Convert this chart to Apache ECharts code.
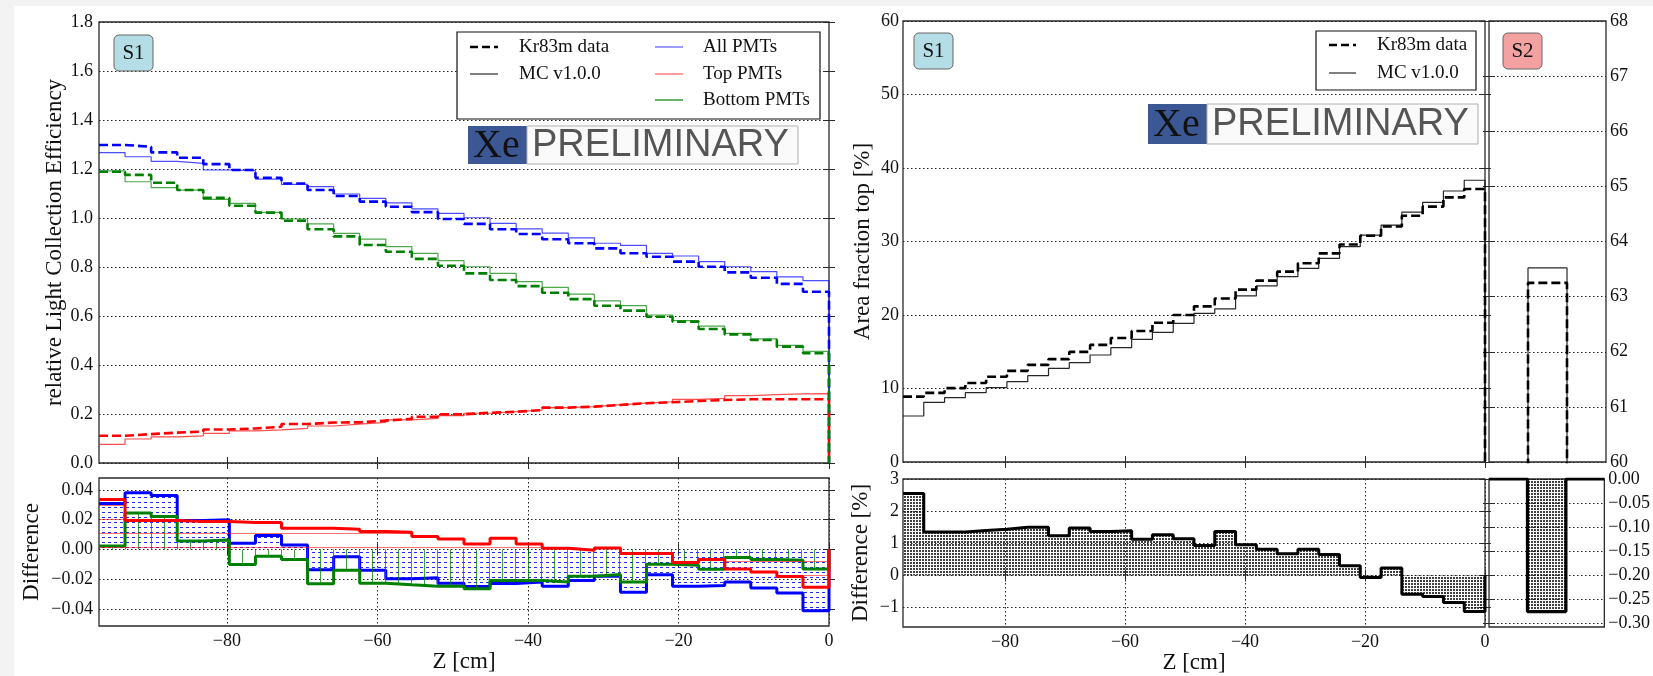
<!DOCTYPE html>
<html><head><meta charset="utf-8">
<script src="https://cdn.jsdelivr.net/npm/echarts@6/dist/echarts.min.js"></script>
<style>html,body{margin:0;padding:0;background:#fff}#c{width:1653px;height:676px}</style>
</head><body><div id="c"></div>
<script>
// ---- data ----
const zEdges = [-97.00,-93.54,-90.07,-86.61,-83.14,-79.68,-76.21,-72.75,-69.29,-65.82,-62.36,-58.89,-55.43,-51.96,-48.50,-45.04,-41.57,-38.11,-34.64,-31.18,-27.71,-24.25,-20.79,-17.32,-13.86,-10.39,-6.93,-3.46,0];
const zTicks = [-80,-60,-40,-20,0];

const lceAllData = [1.298,1.291,1.268,1.246,1.220,1.196,1.164,1.141,1.114,1.090,1.067,1.046,1.024,0.996,0.976,0.954,0.935,0.913,0.897,0.876,0.856,0.842,0.822,0.801,0.778,0.756,0.731,0.699];
const lceAllMC   = [1.267,1.250,1.231,1.223,1.196,1.193,1.159,1.137,1.128,1.098,1.080,1.062,1.037,1.019,1.001,0.978,0.956,0.938,0.919,0.897,0.888,0.856,0.845,0.822,0.801,0.781,0.760,0.744];
const lceTopData = [0.111,0.118,0.124,0.128,0.137,0.141,0.148,0.159,0.165,0.166,0.173,0.180,0.189,0.199,0.205,0.209,0.216,0.226,0.230,0.237,0.244,0.248,0.253,0.257,0.260,0.260,0.260,0.260];
const lceTopMC   = [0.076,0.098,0.107,0.111,0.121,0.131,0.135,0.141,0.151,0.159,0.166,0.176,0.182,0.193,0.203,0.210,0.216,0.226,0.230,0.238,0.244,0.250,0.260,0.264,0.275,0.279,0.282,0.283];
const lceBotData = [1.189,1.176,1.144,1.114,1.082,1.050,1.022,0.989,0.954,0.925,0.890,0.862,0.833,0.805,0.774,0.747,0.722,0.695,0.669,0.642,0.622,0.597,0.577,0.547,0.525,0.502,0.475,0.448];
const lceBotMC   = [1.192,1.148,1.124,1.114,1.076,1.060,1.023,0.996,0.976,0.937,0.914,0.883,0.856,0.826,0.801,0.774,0.740,0.717,0.689,0.662,0.642,0.604,0.581,0.559,0.529,0.507,0.480,0.456];
const lceTicks = [0,0.2,0.4,0.6,0.8,1.0,1.2,1.4,1.6,1.8];

const diffAll = [0.0308,0.038,0.0363,0.0195,0.0199,0.0041,0.0093,0.0029,-0.0136,-0.005,-0.0141,-0.0197,-0.019,-0.0227,-0.025,-0.023,-0.022,-0.0248,-0.0209,-0.018,-0.0288,-0.017,-0.0248,-0.0243,-0.022,-0.0259,-0.0293,-0.0413];
const diffTop = [0.0335,0.0195,0.0195,0.0188,0.0188,0.018,0.018,0.0143,0.0143,0.0136,0.012,0.0116,0.0086,0.007,0.0036,0.0075,0.0036,0.0007,-0.0005,0.001,-0.0027,-0.0027,-0.0088,-0.0068,-0.0132,-0.0152,-0.0182,-0.0254];
const diffBot = [0.0022,0.0245,0.0222,0.0056,0.0063,-0.0102,-0.0046,-0.0068,-0.0231,-0.0141,-0.0227,-0.0238,-0.0248,-0.0248,-0.0265,-0.0209,-0.0209,-0.022,-0.018,-0.0168,-0.022,-0.01,-0.0107,-0.0134,-0.0054,-0.0068,-0.0073,-0.0132];
const diffTicksL = [-0.04,-0.02,0,0.02,0.04];

const aftData = [8.89,9.40,10.05,10.75,11.60,12.40,13.22,14.00,14.98,15.93,16.88,17.82,18.95,20.00,21.18,22.25,23.45,24.68,25.90,27.05,28.38,29.60,30.78,32.05,33.50,34.75,36.00,37.15];
const aftMC   = [6.26,8.12,8.75,9.43,10.11,10.93,11.74,12.74,13.51,14.56,15.56,16.69,17.64,18.87,20.23,20.82,22.59,23.95,25.21,26.35,27.71,29.29,30.88,32.24,34.01,35.33,36.87,38.33];
const aftDiff = [2.55,1.35,1.35,1.40,1.44,1.50,1.50,1.24,1.48,1.37,1.39,1.13,1.27,1.14,0.93,1.37,0.96,0.82,0.68,0.82,0.65,0.30,-0.06,0.23,-0.58,-0.65,-0.84,-1.12];
const aftTicks = [0,10,20,30,40,50,60];
const diffTicksR = [-1,0,1,2,3];

const s2Edges = [0,1,2,3];
const s2Data = [0,63.25,0];
const s2MC   = [0,63.52,0];
const s2Diff = [0,-0.276,0];
const s2Ticks = [60,61,62,63,64,65,66,67,68];
const s2DiffTicks = [-0.30,-0.25,-0.20,-0.15,-0.10,-0.05,0];

// ---- helpers ----
function hist(edges, vals, drop){
  const p = vals.map((v,i)=>[edges[i], v]);
  p.push([edges[edges.length-1], drop ? 0 : vals[vals.length-1]]);
  return p;
}
function pat(w,h,draw){
  const c=document.createElement('canvas'); c.width=w; c.height=h;
  draw(c.getContext('2d')); return {image:c, repeat:'repeat'};
}
const blueHatch = pat(6,5,ctx=>{ctx.fillStyle='rgba(0,0,255,0.85)';ctx.fillRect(0,2,3,1);});
const greenHatch = pat(13,13,ctx=>{ctx.fillStyle='rgba(0,128,0,0.75)';ctx.fillRect(8,0,1,13);});
const redHatch = pat(8,14,ctx=>{ctx.fillStyle='rgba(255,0,0,0.55)';ctx.fillRect(0,1,8,1);});
const dots = pat(3,3,ctx=>{ctx.fillStyle='rgba(0,0,0,0.75)';ctx.fillRect(1,1,2,2);});

const SERIF='"Liberation Serif", "Times New Roman", serif';
const minus = s => String(s).replace('-', '\u2212');
const lab = (fmt)=>({fontFamily:SERIF,fontSize:18,color:'#111',formatter:fmt});
const grid = (l,t,w,h)=>({left:l,top:t,width:w,height:h,show:true,borderColor:'#2a2a2a',borderWidth:1.3,containLabel:false});
const dotted = {show:true,lineStyle:{color:'#222',type:[1.5,2.5],width:1}};
const nameStyle = {fontFamily:SERIF,fontSize:23,color:'#111'};
const tick = (cv)=>({show:true,inside:true,length:6,customValues:cv,lineStyle:{color:'#2a2a2a',width:1}});

function xAx(gi, showLab, showSplit){
  return {type:'value',gridIndex:gi,min:-97,max:0,
    axisLine:{show:false},
    axisTick:tick(zTicks),
    axisLabel:{show:showLab,customValues:zTicks,margin:6,...lab(v=>minus(v))},
    splitLine:showSplit?dotted:{show:false},
    name:showLab?'Z [cm]':'',nameLocation:'middle',nameGap:24,nameTextStyle:nameStyle};
}
function xMirror(gi){
  return {type:'value',gridIndex:gi,min:-97,max:0,position:'top',axisLine:{show:false},
    axisTick:tick(zTicks),axisLabel:{show:false},splitLine:{show:false}};
}
function yMirror(gi,min,max,cv,pos){
  return {type:'value',gridIndex:gi,min,max,position:pos||'right',axisLine:{show:false},
    axisTick:tick(cv),axisLabel:{show:false},splitLine:{show:false}};
}
function s2X(gi){
  return {type:'value',gridIndex:gi,min:0,max:3,axisLine:{show:false},axisTick:{show:false},axisLabel:{show:false},splitLine:{show:false}};
}

const line = (xi,yi,data,color,width,dash,opacity,z,area)=>({
  type:'line',xAxisIndex:xi,yAxisIndex:yi,data,step:'end',showSymbol:false,symbol:'none',
  silent:true,z:z||2,
  lineStyle:{color,width,type:dash||'solid',opacity:opacity==null?1:opacity},
  areaStyle:area?{color:area,opacity:1}:undefined
});

const option = {
  animation:false,
  backgroundColor:'#fff',
  grid:[grid(99,22,730,441),grid(99,478,730,148),grid(903,21,582,441),grid(903,479,582,148),grid(1489,21,117,441),grid(1489,479,117,148)],
  xAxis:[xAx(0,false,false),xAx(1,true,true),xAx(2,false,false),xAx(3,true,true),s2X(4),s2X(5),
    xMirror(0),xMirror(1),xMirror(2),xMirror(3)],
  yAxis:[
    {type:'value',gridIndex:0,min:0,max:1.8,interval:0.2,axisLine:{show:false},
      axisTick:tick(lceTicks),
      axisLabel:{margin:6,...lab(v=>v.toFixed(1))},splitLine:dotted,
      name:'relative Light Collection Efficiency',nameLocation:'middle',nameGap:33,nameTextStyle:nameStyle},
    {type:'value',gridIndex:1,min:-0.0515,max:0.048,axisLine:{show:false},
      axisTick:tick(diffTicksL),
      axisLabel:{customValues:diffTicksL,margin:6,...lab(v=>minus(v.toFixed(2)))},splitLine:dotted,
      name:'Difference',nameLocation:'middle',nameGap:56,nameTextStyle:nameStyle},
    {type:'value',gridIndex:2,min:0,max:60,interval:10,axisLine:{show:false},
      axisTick:tick(aftTicks),
      axisLabel:{margin:4,...lab(v=>String(v))},splitLine:dotted,
      name:'Area fraction top [%]',nameLocation:'middle',nameGap:29,nameTextStyle:nameStyle},
    {type:'value',gridIndex:3,min:-1.6,max:3,axisLine:{show:false},
      axisTick:tick(diffTicksR),
      axisLabel:{customValues:diffTicksR,margin:4,...lab(v=>minus(v))},splitLine:dotted,
      name:'Difference [%]',nameLocation:'middle',nameGap:31,nameTextStyle:nameStyle},
    {type:'value',gridIndex:4,min:60,max:68,interval:1,position:'right',axisLine:{show:false},
      axisTick:tick(s2Ticks),
      axisLabel:{margin:4,...lab(v=>String(v))},splitLine:dotted},
    {type:'value',gridIndex:5,min:-0.308,max:0,position:'right',axisLine:{show:false},
      axisTick:tick(s2DiffTicks),
      axisLabel:{customValues:s2DiffTicks,margin:4,...lab(v=>minus(v.toFixed(2)))},splitLine:dotted},
    yMirror(0,0,1.8,lceTicks),yMirror(1,-0.0515,0.048,diffTicksL),yMirror(2,0,60,aftTicks),yMirror(3,-1.6,3,diffTicksR),
    yMirror(4,60,68,s2Ticks,'left'),yMirror(5,-0.308,0,s2DiffTicks,'left')
  ],
  series:[
    line(0,0,hist(zEdges,lceAllMC,true),'#0000ff',1.2,'solid',0.7),
    line(0,0,hist(zEdges,lceTopMC,true),'#ff0000',1.2,'solid',0.7),
    line(0,0,hist(zEdges,lceBotMC,true),'#008000',1.2,'solid',0.7),
    line(0,0,hist(zEdges,lceAllData,true),'#0000ff',2.6,[9,4],1,3),
    line(0,0,hist(zEdges,lceTopData,true),'#ff0000',2.6,[9,4],1,3),
    line(0,0,hist(zEdges,lceBotData,true),'#008000',2.6,[9,4],1,3),

    line(1,1,hist(zEdges,diffAll,true),'#0000ff',3,'solid',1,3,blueHatch),
    line(1,1,hist(zEdges,diffBot,true),'#008000',3,'solid',1,4,greenHatch),
    line(1,1,hist(zEdges,diffTop,true),'#ff0000',3,'solid',1,5,redHatch),

    line(2,2,hist(zEdges,aftMC,true),'#000',1.2,'solid',0.85),
    line(2,2,hist(zEdges,aftData,true),'#000',2.6,[9,4],1,3),
    line(3,3,hist(zEdges,aftDiff,true),'#000',3,'solid',1,3,dots),

    line(4,4,hist(s2Edges,s2MC,true),'#000',1.2,'solid',0.85),
    line(4,4,hist(s2Edges,s2Data,true),'#000',2.6,[9,4],1,3),
    line(5,5,hist(s2Edges,s2Diff,true),'#000',3.2,'solid',1,3,dots)
  ],
  graphic:[
    {type:'rect',z:-10,shape:{x:0,y:0,width:1653,height:6},style:{fill:'#f3f3f3'}},
    {type:'rect',z:-10,shape:{x:0,y:0,width:14,height:676},style:{fill:'#f3f3f3'}},
    // left legend
    {type:'group',z:100,children:[
      {type:'rect',z:100,shape:{x:457,y:32,width:363,height:87},style:{fill:'#fff',stroke:'#111',lineWidth:1.2}},
      {type:'line',z:101,shape:{x1:470,y1:47,x2:498,y2:47},style:{stroke:'#000',lineWidth:2.6,lineDash:[8,4]}},
      {type:'text',z:101,x:519,y:47,style:{text:'Kr83m data',font:'19px '+SERIF,fill:'#111',verticalAlign:'middle'}},
      {type:'line',z:101,shape:{x1:470,y1:74,x2:498,y2:74},style:{stroke:'#000',lineWidth:1}},
      {type:'text',z:101,x:519,y:74,style:{text:'MC v1.0.0',font:'19px '+SERIF,fill:'#111',verticalAlign:'middle'}},
      {type:'line',z:101,shape:{x1:655,y1:47,x2:683,y2:47},style:{stroke:'#5a5aff',lineWidth:1.2}},
      {type:'text',z:101,x:703,y:47,style:{text:'All PMTs',font:'19px '+SERIF,fill:'#111',verticalAlign:'middle'}},
      {type:'line',z:101,shape:{x1:655,y1:74,x2:683,y2:74},style:{stroke:'#ff5a5a',lineWidth:1.2}},
      {type:'text',z:101,x:703,y:74,style:{text:'Top PMTs',font:'19px '+SERIF,fill:'#111',verticalAlign:'middle'}},
      {type:'line',z:101,shape:{x1:655,y1:100,x2:683,y2:100},style:{stroke:'#008000',lineWidth:1.2}},
      {type:'text',z:101,x:703,y:100,style:{text:'Bottom PMTs',font:'19px '+SERIF,fill:'#111',verticalAlign:'middle'}}
    ]},
    // right legend
    {type:'group',z:100,children:[
      {type:'rect',z:100,shape:{x:1316,y:31,width:160,height:59},style:{fill:'#fff',stroke:'#111',lineWidth:1.2}},
      {type:'line',z:101,shape:{x1:1329,y1:45,x2:1356,y2:45},style:{stroke:'#000',lineWidth:2.6,lineDash:[8,4]}},
      {type:'text',z:101,x:1377,y:45,style:{text:'Kr83m data',font:'19px '+SERIF,fill:'#111',verticalAlign:'middle'}},
      {type:'line',z:101,shape:{x1:1329,y1:73,x2:1356,y2:73},style:{stroke:'#000',lineWidth:1}},
      {type:'text',z:101,x:1377,y:73,style:{text:'MC v1.0.0',font:'19px '+SERIF,fill:'#111',verticalAlign:'middle'}}
    ]},
    // logos
    {type:'rect',z:100,shape:{x:468,y:126,width:59,height:38},style:{fill:'#3b5895'}},
    {type:'text',z:101,x:473,y:146,style:{text:'Xe',font:'40px '+SERIF,fill:'#111',verticalAlign:'middle'}},
    {type:'rect',z:100,shape:{x:527,y:126,width:271,height:38},style:{fill:'#fafafa',stroke:'#b0b0b0',lineWidth:1}},
    {type:'text',z:101,x:532,y:146,style:{text:'PRELIMINARY',font:'38px "Liberation Sans", Arial, sans-serif',fill:'#555',verticalAlign:'middle'}},
    {type:'rect',z:100,shape:{x:1148,y:104,width:59,height:40},style:{fill:'#3b5895'}},
    {type:'text',z:101,x:1153,y:125,style:{text:'Xe',font:'40px '+SERIF,fill:'#111',verticalAlign:'middle'}},
    {type:'rect',z:100,shape:{x:1207,y:104,width:271,height:40},style:{fill:'#fafafa',stroke:'#b0b0b0',lineWidth:1}},
    {type:'text',z:101,x:1212,y:125,style:{text:'PRELIMINARY',font:'38px "Liberation Sans", Arial, sans-serif',fill:'#555',verticalAlign:'middle'}},
    // S1 / S2 tags
    {type:'rect',z:100,shape:{x:114,y:35,width:39,height:36,r:5},style:{fill:'#b5dde6',stroke:'#666',lineWidth:1}},
    {type:'text',z:101,x:133.5,y:53,style:{text:'S1',font:'21px '+SERIF,fill:'#111',align:'center',verticalAlign:'middle'}},
    {type:'rect',z:100,shape:{x:914,y:33,width:39,height:36,r:5},style:{fill:'#b5dde6',stroke:'#666',lineWidth:1}},
    {type:'text',z:101,x:933.5,y:51,style:{text:'S1',font:'21px '+SERIF,fill:'#111',align:'center',verticalAlign:'middle'}},
    {type:'rect',z:100,shape:{x:1503,y:33,width:39,height:36,r:5},style:{fill:'#f4a1a1',stroke:'#666',lineWidth:1}},
    {type:'text',z:101,x:1522.5,y:51,style:{text:'S2',font:'21px '+SERIF,fill:'#111',align:'center',verticalAlign:'middle'}}
  ]
};
const chart = echarts.init(document.getElementById('c'),null,{renderer:'canvas'});
chart.setOption(option);
</script></body></html>
